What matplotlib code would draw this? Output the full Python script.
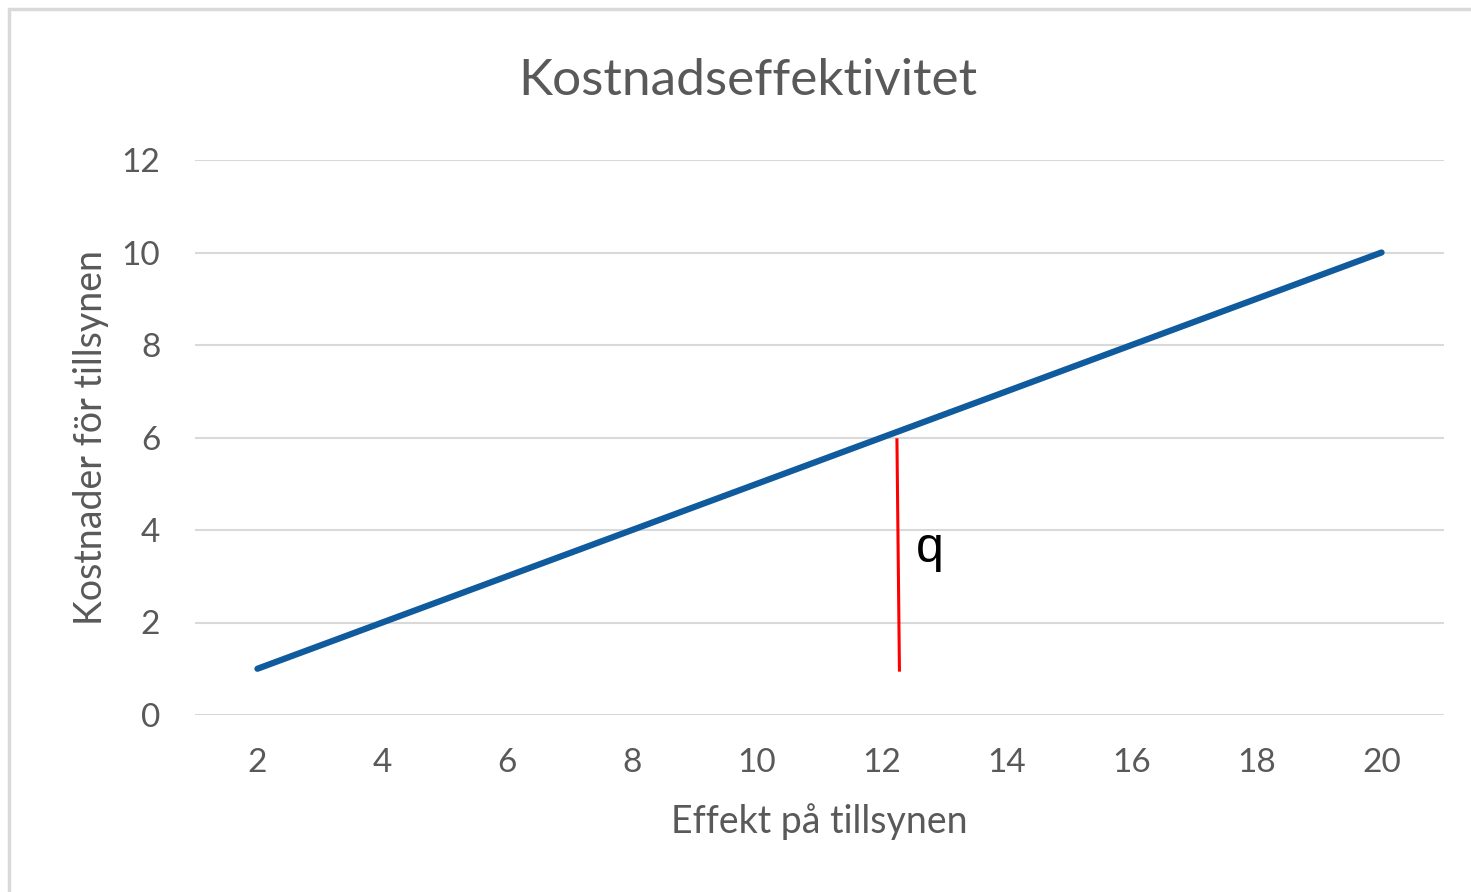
import matplotlib.pyplot as plt
from matplotlib.patches import Rectangle

# effect categories (x) and costs (y)
effekt = ['2', '4', '6', '8', '10', '12', '14', '16', '18', '20']
kostnad = [1, 2, 3, 4, 5, 6, 7, 8, 9, 10]

# the red marker line drawn by hand, in category-index / value coords
q_x = [5.12, 5.14]
q_y = [5.95, 0.97]

plt.rcParams['font.family'] = ['Lato', 'DejaVu Sans']

fig = plt.figure(figsize=(14.71, 8.92), dpi=100)
ax = fig.add_axes([195/1471, 177/892, (1444-195)/1471, (715-160)/892])

idx = list(range(len(effekt)))
ax.plot(idx, kostnad, color='#0f5b9d', lw=4.5, solid_capstyle='round', zorder=3)
ax.plot(q_x, q_y, color='#ff0000', lw=2.2, zorder=4)
ax.text(5.38, 3.6, 'q', fontsize=36, color='black', ha='center', va='center',
        family=['Liberation Sans', 'DejaVu Sans'])

ax.set_xlim(-0.5, len(effekt) - 0.5)
ax.set_ylim(0, 12)
ax.set_xticks(idx)
ax.set_xticklabels(effekt)
ax.set_yticks(range(0, 13, 2))
ax.tick_params(length=0, labelsize=24, labelcolor='#595959')
ax.tick_params(axis='x', pad=24)
ax.tick_params(axis='y', pad=25)
ax.grid(axis='y', color='#d9d9d9', lw=1.5)
ax.set_axisbelow(True)
for s in ax.spines.values():
    s.set_visible(False)

ax.set_xlabel('Effekt på tillsynen', fontsize=27, color='#595959', labelpad=18)
ax.set_ylabel('Kostnader för tillsynen', fontsize=27, color='#595959', labelpad=9)
fig.text(748/1471, 1 - 81/892, 'Kostnadseffektivitet', fontsize=37, color='#595959',
         ha='center', va='center')

# light frame around the chart area
fig.patches.append(Rectangle((9/1471, -0.01), 1.02, 1 - 9/892 + 0.01, transform=fig.transFigure,
                             fill=False, edgecolor='#d9d9d9', lw=2.5))

fig.savefig('out.png', dpi=100)
